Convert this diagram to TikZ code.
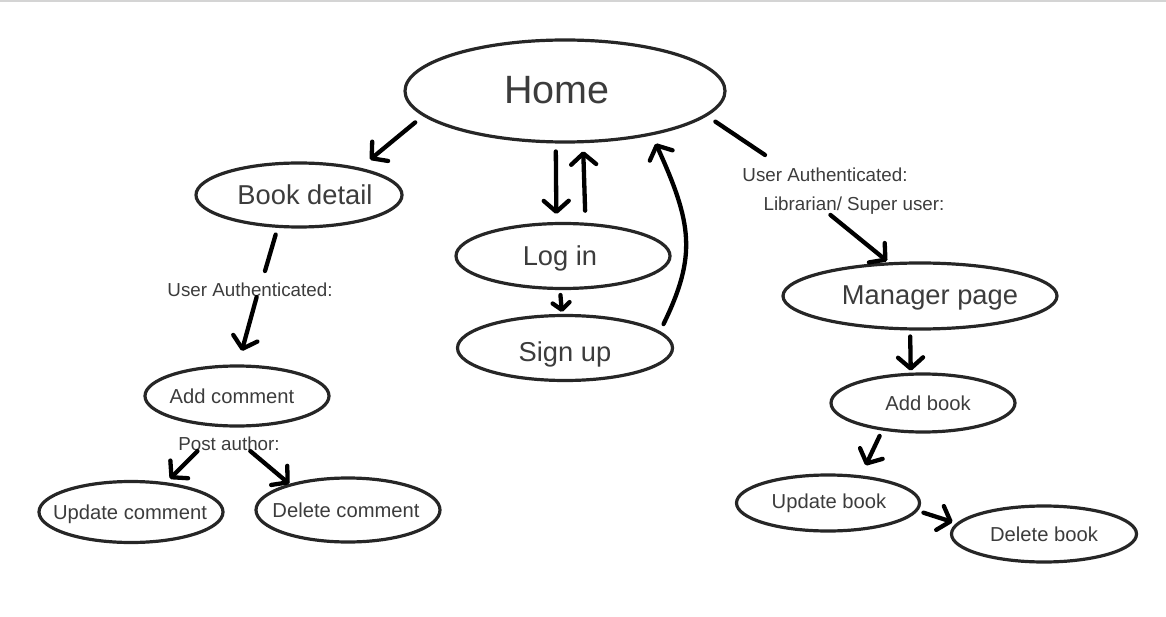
\documentclass[tikz,border=0pt]{standalone}
\usepackage{fontspec}
\setmainfont{Liberation Sans}
\usetikzlibrary{shapes.geometric,arrows.meta,calc}
\definecolor{ink}{HTML}{262626}
\definecolor{txt}{HTML}{3C3C3C}
\definecolor{rule}{HTML}{D4D4D4}
\newcommand\shifttext[3]{\makebox[0pt]{\kern#1\relax\raisebox{-#2}[\height][\depth]{#3}\kern-#1\relax}}
\tikzset{
  ell/.style={ellipse, draw=ink, line width=3.2pt, inner sep=0pt, text=txt},
  bigtxt/.style={font=\fontsize{39.5pt}{46pt}\selectfont},
  midtxt/.style={font=\fontsize{27.3pt}{32pt}\selectfont},
  smalltxt/.style={font=\fontsize{20.2pt}{24pt}\selectfont},
  lab/.style={font=\fontsize{18.8pt}{22pt}\selectfont, text=txt, inner sep=0pt},
  seg/.style={line width=4.3pt, line cap=round, draw=black},
  arr/.style={seg, -{Straight Barb[length=11pt,width=25pt,round]}},
  arrsmall/.style={seg, -{Straight Barb[length=7pt,width=17pt,round]}},
}
\begin{document}
\begin{tikzpicture}[x=1pt,y=-1pt]
\path[use as bounding box] (0,0) rectangle (1166,617);
\fill[rule] (0,0) rectangle (1166,2);

% nodes
\node[ell, bigtxt, minimum width=320pt, minimum height=102pt] (home) at (565,91) {\shifttext{-8pt}{-1pt}{Home}};
\node[ell, midtxt, minimum width=206pt, minimum height=64pt] (bd) at (299,195) {\shifttext{6pt}{0pt}{Book detail}};
\node[ell, midtxt, minimum width=214pt, minimum height=65pt] (login) at (563,256) {\shifttext{-3pt}{2pt}{Log in}};
\node[ell, midtxt, minimum width=215pt, minimum height=65pt] (signup) at (565,348) {\shifttext{0pt}{6pt}{Sign up}};
\node[ell, midtxt, minimum width=274pt, minimum height=66pt] (mgr) at (920,296) {\shifttext{10pt}{2pt}{Manager page}};
\node[ell, smalltxt, minimum width=184pt, minimum height=60pt] (ac) at (237,396) {\shifttext{-5pt}{0pt}{Add comment}};
\node[ell, smalltxt, minimum width=184pt, minimum height=61pt] (uc) at (131,512) {\shifttext{-1pt}{2pt}{Update comment}};
\node[ell, smalltxt, minimum width=184pt, minimum height=64pt] (dc) at (348,510) {\shifttext{-2pt}{0pt}{Delete comment}};
\node[ell, smalltxt, minimum width=184pt, minimum height=58pt] (ab) at (923,403) {\shifttext{5pt}{0pt}{Add book}};
\node[ell, smalltxt, minimum width=183pt, minimum height=56pt] (ub) at (828,503) {\shifttext{1pt}{0pt}{Update book}};
\node[ell, smalltxt, minimum width=185pt, minimum height=56pt] (db) at (1044,534) {\shifttext{0pt}{0pt}{Delete book}};

% labels
\node[lab] (l1) at (250,290) {User Authenticated:};
\node[lab] (l2) at (229,444) {Post author:};
\node[lab] (l3) at (825,175) {User Authenticated:};
\node[lab] (l4) at (854,206) {Librarian/ Super user:};

\coordinate (c1) at (765,155);
\coordinate (c3) at (265,271);

% connectors
\draw[arr, shorten <=10pt, shorten >=12.7pt] (home.190.7) -- (bd.24.6);
\draw[arr, shorten <=8pt, shorten >=8pt] (home.260.4) -- (login.101);
\draw[arr, shorten <=12pt, shorten >=8pt] (login.56) -- (home.289.5);
\draw[arrsmall, shorten <=5pt, shorten >=2pt] (login.265) -- (signup.95);
\draw[arr, shorten <=8pt, shorten >=9pt] (signup.10) .. controls +(37,-76) and +(40,88) .. (home.333.8);
\draw[seg, shorten <=10pt] (home.350.7) -- (c1);
\draw[arr, shorten >=2pt] ($(l4.south west)!0.37!(l4.south east)$) -- (mgr.133);
\draw[seg, shorten <=7pt] (bd.237.5) -- (c3);
\draw[arr, shorten >=14pt] ($(l1.south west)!0.54!(l1.south east)$) -- (ac.88);
\draw[arr, shorten >=5pt] ($(l2.south west)!0.19!(l2.south east)$) -- (uc.40);
\draw[arr] ($(l2.south west)!0.71!(l2.south east)$) -- (dc.156);
\draw[arr, shorten <=6pt, shorten >=2pt] (mgr.254.7) -- (ab.112.5);
\draw[arr, shorten <=6pt, shorten >=11pt] (ab.214.8) -- (ub.40);
\draw[arr, shorten <=6pt, shorten >=4pt] (ub.-5) -- (db.173);
\end{tikzpicture}
\end{document}
